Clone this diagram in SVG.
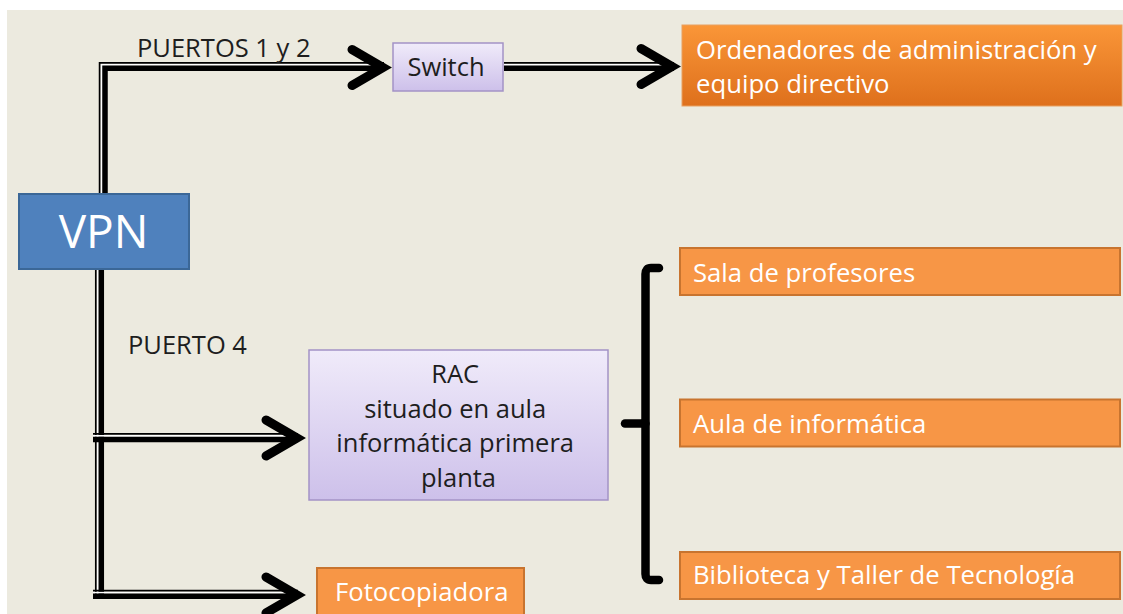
<svg xmlns="http://www.w3.org/2000/svg" width="1123" height="614" viewBox="0 0 1123 614">
<defs>
<linearGradient id="lav" x1="0" y1="0" x2="0" y2="1">
<stop offset="0" stop-color="#F0EBFA"/>
<stop offset="1" stop-color="#CDC0EA"/>
</linearGradient>
<linearGradient id="orgGrad" x1="0" y1="0" x2="0" y2="1">
<stop offset="0" stop-color="#FA9638"/>
<stop offset="1" stop-color="#DE701C"/>
</linearGradient>
<path id="chev" d="M-31,-18 L0,0 L-31,18"/>
</defs>
<style>
.t{font-family:"Open Sans","Liberation Sans",sans-serif;font-size:25.5px}
.tw{font-size:25.7px}
.dark{fill:#1E1E1E}
.white{fill:#FFFFFF}
.org{fill:#F79646;stroke:#C8742F;stroke-width:2}
.lav{fill:url(#lav);stroke:#A393C6;stroke-width:1.5}
.thin{fill:none;stroke:#000;stroke-width:1.7}
.gap{fill:none;stroke:#FFFFFF;stroke-width:1.8}
.thick{fill:none;stroke:#000;stroke-width:5.5}
.arrow{fill:none;stroke:#000;stroke-width:9;stroke-linecap:round;stroke-linejoin:miter;stroke-miterlimit:4}
.brace{fill:none;stroke:#000;stroke-width:8.5;stroke-linecap:round;stroke-linejoin:round}
</style>
<rect x="0" y="0" width="1123" height="614" fill="#FFFFFF"/>
<rect x="7" y="10" width="1116" height="604" fill="#ECEADF"/>

<g id="connectors">
<!-- VPN up to Switch -->
<path class="gap" d="M101.6,194 V64.6 H384"/>
<path class="thin" d="M99.6,194 V62.8 H384"/>
<path class="thick" d="M105,194 V68.3 H384"/>
<!-- Switch to Ordenadores -->
<path class="gap" d="M504,64.8 H674"/>
<path class="thin" d="M504,62.8 H674"/>
<path class="thick" d="M504,68.3 H674"/>
<!-- VPN down -->
<path class="gap" d="M97.6,269 V596"/>
<path class="thin" d="M95.8,269 V596"/>
<path class="thick" d="M101.3,269 V598.8"/>
<!-- branch to RAC -->
<path class="gap" d="M93,435.8 H298"/>
<path class="thin" d="M93,433.8 H298"/>
<path class="thick" d="M93,439.5 H298"/>
<!-- branch to Fotocopiadora -->
<path class="gap" d="M93,592.6 H298"/>
<path class="thin" d="M93,590.7 H298"/>
<path class="thick" d="M93,596.2 H298"/>
<!-- arrowheads -->
<use href="#chev" class="arrow" transform="translate(383,67.5)"/>
<use href="#chev" class="arrow" transform="translate(672,66.5)"/>
<use href="#chev" class="arrow" transform="translate(297,438)"/>
<use href="#chev" class="arrow" transform="translate(297,595)"/>
<!-- bracket -->
<path class="brace" d="M659,268 H651 Q645.5,268 645.5,274 V574 Q645.5,580 651,580 H659"/>
<path class="brace" d="M645.5,423.5 H625"/>
</g>

<g id="label-puertos12"><text class="t dark" x="137" y="57">PUERTOS 1 y 2</text></g>
<g id="label-puerto4"><text class="t dark" x="128" y="354">PUERTO 4</text></g>

<g id="vpn">
<rect x="19" y="194" width="170" height="75" fill="#4F81BD" stroke="#3B6797" stroke-width="2"/>
<text x="103.5" y="248" text-anchor="middle" font-family="Open Sans, Liberation Sans, sans-serif" font-size="46" fill="#FFFFFF">VPN</text>
</g>

<g id="switch">
<rect class="lav" x="393" y="43" width="110" height="48"/>
<text class="t dark" x="446" y="76" text-anchor="middle">Switch</text>
</g>

<g id="ordenadores">
<rect x="682" y="25" width="440" height="81" fill="url(#orgGrad)" stroke="#E8A060" stroke-width="1"/>
<text class="t tw white" x="696" y="59">Ordenadores de administración y</text>
<text class="t tw white" x="696" y="93">equipo directivo</text>
</g>

<g id="rac">
<rect class="lav" x="309" y="350" width="299" height="150"/>
<text class="t dark" x="458.5" text-anchor="middle">
<tspan x="458.5" y="383">RAC</tspan>
<tspan x="458.5" y="417.5">situado en aula</tspan>
<tspan x="458.5" y="452">informática primera</tspan>
<tspan x="458.5" y="486.5">planta</tspan>
</text>
</g>

<g id="fotocopiadora">
<rect class="org" x="317" y="568" width="207" height="50"/>
<text class="t tw white" x="335" y="601">Fotocopiadora</text>
</g>

<g id="sala">
<rect class="org" x="680" y="248" width="440" height="47"/>
<text class="t tw white" x="693" y="282">Sala de profesores</text>
</g>

<g id="aula">
<rect class="org" x="680" y="399.5" width="440" height="47"/>
<text class="t tw white" x="693" y="433">Aula de informática</text>
</g>

<g id="biblioteca">
<rect class="org" x="680" y="552" width="440" height="47"/>
<text class="t tw white" x="693" y="583.5">Biblioteca y Taller de Tecnología</text>
</g>
</svg>
